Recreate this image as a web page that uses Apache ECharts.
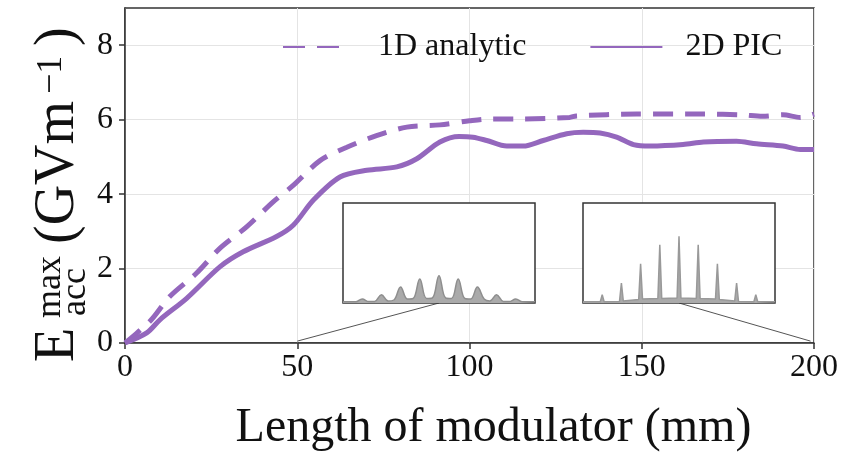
<!DOCTYPE html>
<html>
<head>
<meta charset="utf-8">
<script src="https://cdn.jsdelivr.net/npm/echarts@6/dist/echarts.min.js"></script>
<style>
  html, body { margin: 0; padding: 0; background: #fff; }
  #chart { width: 854px; height: 457px; }
</style>
</head>
<body>
<div id="chart"></div>
<script>
// main curves (x in mm, y in GV/m)
var analyticX = [0, 2, 7.7, 13, 20.8, 27.6, 35.3, 43, 48.9, 56.6, 64.4, 73, 81.8, 91.4, 100, 106, 114.7, 129, 131, 148.5, 168, 179, 185, 191, 196, 200];
var analyticY = [0, 0.15, 0.63, 1.25, 1.88, 2.55, 3.12, 3.79, 4.24, 4.9, 5.26, 5.57, 5.8, 5.86, 5.97, 6.02, 6.02, 6.06, 6.1, 6.15, 6.15, 6.13, 6.09, 6.13, 6.06, 6.15];
var picX = [0, 6.3, 10.2, 17.9, 27.6, 34.3, 44, 48.9, 54.7, 62.4, 70.2, 78.9, 84.7, 91.4, 97, 101, 105, 110.8, 115.6, 121.4, 128.2, 133, 137.9, 142.7, 147.6, 152.4, 162, 167.9, 177.5, 183.3, 191, 196, 200];
var picY = [0, 0.27, 0.63, 1.2, 2.05, 2.45, 2.86, 3.17, 3.84, 4.46, 4.64, 4.73, 4.95, 5.4, 5.55, 5.53, 5.44, 5.29, 5.29, 5.44, 5.62, 5.66, 5.64, 5.53, 5.33, 5.29, 5.33, 5.4, 5.42, 5.35, 5.29, 5.2, 5.2];

// inset spectra (arbitrary units, box spans 0..100 x 0..1)
var ins1X = [0, 6.5, 10, 13.5, 16.5, 20, 23.5, 26.5, 30, 33.5, 36.5, 40, 43.5, 46.5, 50, 53.5, 56.5, 60, 63.5, 66.5, 70, 73.5, 76.5, 80, 83.5, 86.5, 90, 93.5, 100];
var ins1Y = [0.012, 0.012, 0.04, 0.014, 0.016, 0.083, 0.02, 0.03, 0.16, 0.04, 0.045, 0.24, 0.045, 0.05, 0.273, 0.05, 0.045, 0.24, 0.045, 0.04, 0.16, 0.04, 0.02, 0.083, 0.016, 0.014, 0.04, 0.012, 0.012];
var ins2X = [0, 9, 10, 11, 19, 20, 21, 29, 30, 31, 39, 40, 41, 49, 50, 51, 59, 60, 61, 69, 70, 71, 79, 80, 81, 89, 90, 91, 100];
var ins2Y = [0.012, 0.012, 0.083, 0.012, 0.015, 0.2, 0.02, 0.035, 0.393, 0.04, 0.045, 0.583, 0.045, 0.05, 0.667, 0.05, 0.045, 0.583, 0.045, 0.04, 0.393, 0.035, 0.02, 0.2, 0.015, 0.012, 0.083, 0.012, 0.012];

var xTicks = [0, 50, 100, 150, 200];
var yTicks = [0, 2, 4, 6, 8];

function pairs(xs, ys) {
  return xs.map(function (x, i) { return [x, ys[i]]; });
}

var FONT = '"Liberation Serif", "DejaVu Serif", serif';
var PURPLE = '#9467bd';
var AXIS = '#333';

var myChart = echarts.init(document.getElementById('chart'));

function insetAxes(idx) {
  return {
    x: { gridIndex: idx, type: 'value', min: 0, max: 100, show: false },
    y: { gridIndex: idx, type: 'value', min: 0, max: 1, show: false }
  };
}
var a1 = insetAxes(1), a2 = insetAxes(2);

var option = {
  animation: false,
  backgroundColor: '#fff',
  grid: [
    { left: 125, top: 8, right: 40, bottom: 113.5, show: true, borderColor: AXIS, borderWidth: 1.5 },
    { left: 343, top: 203, width: 192, height: 100, show: true, backgroundColor: '#fff', borderColor: AXIS, borderWidth: 1.5, z: 5 },
    { left: 583, top: 203, width: 192, height: 100, show: true, backgroundColor: '#fff', borderColor: AXIS, borderWidth: 1.5, z: 5 }
  ],
  legend: {
    left: 282, top: 31, padding: 0,
    itemWidth: 72, itemHeight: 18, itemGap: 63,
    itemStyle: { opacity: 0 },
    textStyle: { fontFamily: FONT, fontSize: 32, color: '#111', padding: [0, 0, 0, 18] },
    data: [
      { name: '1D analytic', lineStyle: { type: [22, 12, 22, 40] } },
      { name: '2D PIC' }
    ]
  },
  xAxis: [
    {
      type: 'value', min: 0, max: 200, interval: 50,
      name: 'Length of modulator (mm)', nameLocation: 'middle', nameGap: 61,
      nameTextStyle: { fontFamily: FONT, fontSize: 48, color: '#111', padding: [0, 0, 0, 48] },
      axisLine: { show: true, lineStyle: { color: AXIS, width: 1.5 } },
      axisTick: { show: true, length: 6, lineStyle: { color: AXIS, width: 1.5 }, customValues: xTicks },
      axisLabel: { fontFamily: FONT, fontSize: 32, color: '#111', margin: 9, customValues: xTicks },
      splitLine: { show: true, lineStyle: { color: '#e4e4e4', width: 1 } }
    },
    a1.x, a2.x
  ],
  yAxis: [
    {
      type: 'value', min: 0, max: 9, interval: 2,
      axisLine: { show: true, lineStyle: { color: AXIS, width: 1.5 } },
      axisTick: { show: true, length: 6, lineStyle: { color: AXIS, width: 1.5 }, customValues: yTicks },
      axisLabel: { fontFamily: FONT, fontSize: 32, color: '#111', margin: 12, customValues: yTicks },
      splitLine: { show: true, lineStyle: { color: '#e4e4e4', width: 1 } }
    },
    a1.y, a2.y
  ],
  series: [
    {
      name: '1D analytic', type: 'line', symbol: 'none', smooth: 0.3,
      data: pairs(analyticX, analyticY),
      lineStyle: { color: PURPLE, width: 5, type: [20, 12], cap: 'butt' },
      itemStyle: { color: PURPLE }, z: 3
    },
    {
      name: '2D PIC', type: 'line', symbol: 'none', smooth: 0.3,
      data: pairs(picX, picY),
      lineStyle: { color: PURPLE, width: 5 },
      itemStyle: { color: PURPLE }, z: 3
    },
    {
      name: 'inset1', type: 'line', xAxisIndex: 1, yAxisIndex: 1, symbol: 'none', smooth: 0.4,
      data: pairs(ins1X, ins1Y),
      lineStyle: { color: '#8e8e8e', width: 1.5 },
      areaStyle: { color: '#aaaaaa', opacity: 1 }, z: 6
    },
    {
      name: 'inset2', type: 'line', xAxisIndex: 2, yAxisIndex: 2, symbol: 'none',
      data: pairs(ins2X, ins2Y),
      lineStyle: { color: '#999', width: 1.5 },
      areaStyle: { color: '#aaaaaa', opacity: 1 }, z: 6
    }
  ]
};

myChart.setOption(option);

// connector lines from the insets down to the axis, and the y-axis title
var p50 = myChart.convertToPixel({ xAxisIndex: 0, yAxisIndex: 0 }, [50, 0.05]);
var p200 = myChart.convertToPixel({ xAxisIndex: 0, yAxisIndex: 0 }, [199, 0.05]);
var c1 = myChart.convertToPixel({ xAxisIndex: 1, yAxisIndex: 1 }, [50, 0]);
var c2 = myChart.convertToPixel({ xAxisIndex: 2, yAxisIndex: 2 }, [50, 0]);

var big = '56px ' + FONT;
var small = '36px ' + FONT;

myChart.setOption({
  graphic: [
    { type: 'line', shape: { x1: p50[0], y1: p50[1], x2: c1[0], y2: c1[1] }, style: { stroke: '#555', lineWidth: 1 }, z: 4 },
    { type: 'line', shape: { x1: p200[0], y1: p200[1], x2: c2[0], y2: c2[1] }, style: { stroke: '#555', lineWidth: 1 }, z: 4 },
    {
      type: 'group', x: 86, y: 362, rotation: Math.PI / 2,
      children: [
        { type: 'text', x: 0, y: 0, style: { text: 'E', font: big, fill: '#111', verticalAlign: 'bottom' } },
        { type: 'text', x: 44, y: -17, style: { text: 'max', font: small, fill: '#111', verticalAlign: 'bottom' } },
        { type: 'text', x: 46, y: 8, style: { text: 'acc', font: small, fill: '#111', verticalAlign: 'bottom' } },
        { type: 'text', x: 118, y: 0, style: { text: '(GVm', font: big, fill: '#111', verticalAlign: 'bottom' } },
        { type: 'text', x: 268, y: -16, style: { text: '\u22121', font: small, fill: '#111', verticalAlign: 'bottom' } },
        { type: 'text', x: 316, y: 0, style: { text: ')', font: big, fill: '#111', verticalAlign: 'bottom' } }
      ]
    }
  ]
});
</script>
</body>
</html>
